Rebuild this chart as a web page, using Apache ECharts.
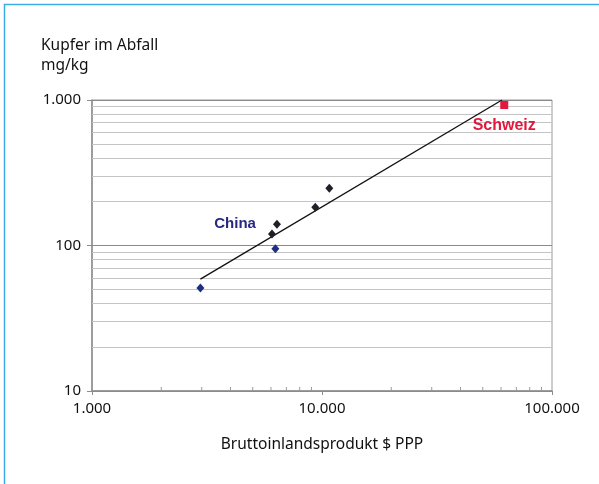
<!DOCTYPE html>
<html>
<head>
<meta charset="utf-8">
<script src="https://cdn.jsdelivr.net/npm/echarts@6/dist/echarts.min.js"></script>
<style>
html,body{margin:0;padding:0;background:#fff;}
#c{width:599px;height:484px;}
</style>
</head>
<body>
<div id="c"></div>
<script>
// Data
const blueGdp = [2960, 6270];
const blueCu = [51, 95];
const darkGdp = [6060, 6370, 9350, 10760];
const darkCu = [120, 140, 183, 247];
const swissGdp = [62000];
const swissCu = [924];
const trendGdp = [2960, 60600];
const trendCu = [58.7, 1000];
const xTicks = [1000, 10000, 100000];
const yTicks = [10, 100, 1000];
const minorX = [2000, 3000, 4000, 5000, 6000, 7000, 8000, 9000, 20000, 30000, 40000, 50000, 60000, 70000, 80000, 90000];
const minorY = [20, 30, 40, 50, 60, 70, 80, 90, 200, 300, 400, 500, 600, 700, 800, 900];
const labelChina = 'China';
const labelSwiss = 'Schweiz';

function fmt(v) {
  return String(Math.round(v)).replace(/\B(?=(\d{3})+(?!\d))/g, '.');
}
function pairs(xs, ys) { return xs.map((x, i) => [x, ys[i]]); }

const chart = echarts.init(document.getElementById('c'), null, {renderer: 'canvas'});
const font = '"Noto Sans", "Open Sans", sans-serif';
const boldFont = '"Liberation Sans", Arial, sans-serif';

chart.setOption({
  animation: false,
  backgroundColor: '#fff',
  textStyle: {fontFamily: font},
  title: {
    text: 'Kupfer im Abfall\nmg/kg',
    left: 41, top: 36, padding: 0,
    textStyle: {fontFamily: font, fontSize: 15.5, fontWeight: 'normal', color: '#111', lineHeight: 20}
  },
  graphic: [{
    type: 'rect', silent: true, z: 100,
    shape: {x: 4.5, y: 4.5, width: 700, height: 700},
    style: {fill: null, stroke: '#3aaee3', lineWidth: 1.5}
  }],
  grid: {left: 92, right: 47, top: 100, bottom: 93, show: true, borderColor: '#9a9a9a', borderWidth: 1, backgroundColor: 'transparent'},
  xAxis: {
    type: 'log', logBase: 10, min: xTicks[0], max: xTicks[xTicks.length - 1],
    name: 'Bruttoinlandsprodukt $ PPP', nameLocation: 'middle', nameGap: 46,
    nameTextStyle: {fontFamily: font, fontSize: 15.5, color: '#111'},
    axisLine: {show: true, lineStyle: {color: '#8c8c8c', width: 1.5}},
    axisTick: {show: true, inside: false, length: 4, lineStyle: {color: '#8c8c8c'}},
    axisLabel: {fontFamily: font, fontSize: 15, color: '#111', margin: 10, formatter: fmt},
    splitLine: {show: false}
  },
  yAxis: {
    type: 'log', logBase: 10, min: yTicks[0], max: yTicks[yTicks.length - 1],
    axisLine: {show: true, lineStyle: {color: '#8c8c8c', width: 1.5}},
    axisTick: {show: true, inside: false, length: 5, lineStyle: {color: '#8c8c8c'}},
    axisLabel: {fontFamily: font, fontSize: 15, color: '#111', margin: 11, formatter: fmt},
    splitLine: {show: true, lineStyle: {color: '#8a8a8a', width: 1}}
  },
  series: [
    {
      type: 'scatter', name: 'minor', silent: true, z: 1,
      symbol: 'rect', symbolSize: [1, 4], symbolOffset: [0, -2],
      itemStyle: {color: '#9a9a9a', opacity: 1},
      data: minorX.map(x => [x, yTicks[0]]),
      clip: false,
      markLine: {
        silent: true, symbol: 'none', label: {show: false},
        lineStyle: {color: '#c4c4c4', width: 1, type: 'solid', opacity: 1},
        data: minorY.map(v => ({yAxis: v}))
      }
    },
    {
      type: 'line', name: 'trend', z: 5, silent: true,
      data: pairs(trendGdp, trendCu), showSymbol: false, symbol: 'none',
      lineStyle: {color: '#111', width: 1.3, opacity: 1}
    },
    {
      type: 'scatter', name: 'blue', z: 6,
      symbol: 'diamond', symbolSize: [8, 9],
      itemStyle: {color: '#1c2f80', opacity: 1},
      data: pairs(blueGdp, blueCu)
    },
    {
      type: 'scatter', name: 'dark', z: 6,
      symbol: 'diamond', symbolSize: [8, 9],
      itemStyle: {color: '#202028', opacity: 1},
      data: pairs(darkGdp, darkCu).map((p, i) => i === 1 ? {
        value: p,
        label: {show: true, position: 'left', distance: 17, formatter: labelChina,
          fontFamily: boldFont, fontWeight: 'bold', fontSize: 15, color: '#27287f', opacity: 1}
      } : p)
    },
    {
      type: 'scatter', name: 'swiss', z: 6,
      symbol: 'rect', symbolSize: 8,
      itemStyle: {color: '#e3183c', opacity: 1},
      label: {show: true, position: 'bottom', distance: 9, formatter: labelSwiss,
        fontFamily: boldFont, fontWeight: 'bold', fontSize: 16, color: '#e3183c', opacity: 1},
      data: pairs(swissGdp, swissCu)
    }
  ]
});
</script>
</body>
</html>
